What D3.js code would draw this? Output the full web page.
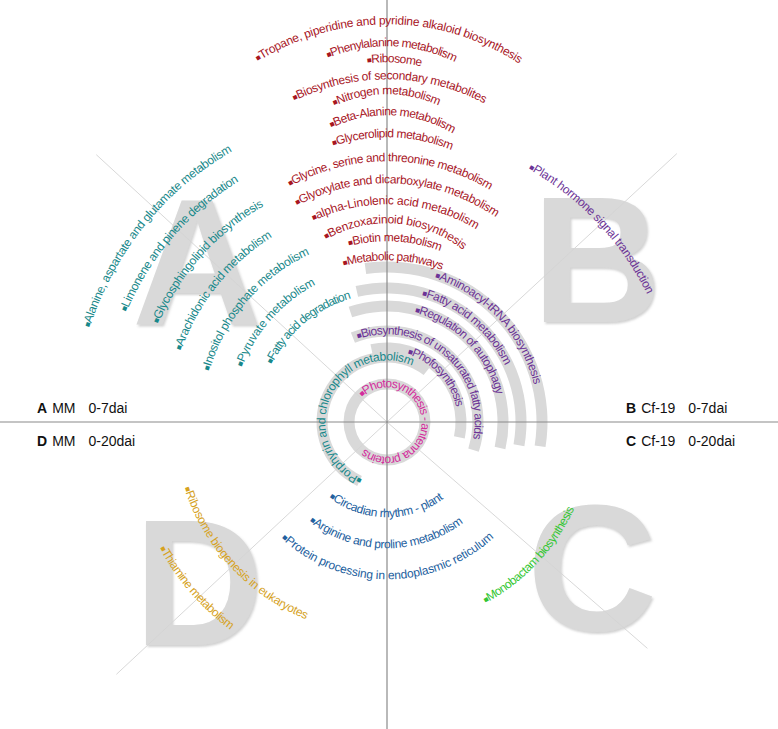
<!DOCTYPE html>
<html>
<head>
<meta charset="utf-8">
<script src="https://cdn.jsdelivr.net/npm/d3@7"></script>
<style>
  body { margin: 0; background: #fff; }
  svg { display: block; }
  text { font-family: "Liberation Sans", Arial, sans-serif; }
</style>
</head>
<body>
<svg id="chart" width="778" height="729"></svg>
<script>
// pathway names per region, listed outer ring first
const sharedAB = [
  "Tropane, piperidine and pyridine alkaloid biosynthesis",
  "Phenylalanine metabolism",
  "Ribosome",
  "Biosynthesis of secondary metabolites",
  "Nitrogen metabolism",
  "Beta-Alanine metabolism",
  "Glycerolipid metabolism",
  "Glycine, serine and threonine metabolism",
  "Glyoxylate and dicarboxylate metabolism",
  "alpha-Linolenic acid metabolism",
  "Benzoxazinoid biosynthesis",
  "Biotin metabolism",
  "Metabolic pathways"
];
const onlyA = [
  "Alanine, aspartate and glutamate metabolism",
  "Limonene and pinene degradation",
  "Glycosphingolipid biosynthesis",
  "Arachidonic acid metabolism",
  "Inositol phosphate metabolism",
  "Pyruvate metabolism",
  "Fatty acid degradation"
];
const onlyB = [
  "Plant hormone signal transduction",
  "Aminoacyl-tRNA biosynthesis",
  "Fatty acid metabolism",
  "Regulation of autophagy",
  "Biosynthesis of unsaturated fatty acids",
  "Phofosynthesis"
];
const centreTeal = ["Porphyrin and chlorophyll metabolism"];
const centreMagenta = ["Photosynthesis - antenna proteins"];
const sharedCD = [
  "Circadian rhythm - plant",
  "Arginine and proline metabolism",
  "Protein processing in endoplasmic reticulum"
];
const onlyD = ["Ribosome biogenesis in eukaryotes", "Thiamine metabolism"];
const onlyC = ["Monobactam biosynthesis"];

const quadLetters = ["A", "B", "C", "D"];
const quadGroups = ["MM", "Cf-19", "Cf-19", "MM"];
const quadPeriods = ["0-7dai", "0-7dai", "0-20dai", "0-20dai"];

// ---- layout (radius from the centre, angles in degrees clockwise from 12 o'clock)
const cx = 387, cy = 422;
const ringA = [
  {r: 315, from: -72.4, to: -29.7}, {r: 286, from: -67.1, to: -31.6},
  {r: 252, from: -66.8, to: -29.7}, {r: 221, from: -70.9, to: -31.8},
  {r: 188, from: -74, to: -24.7}, {r: 158, from: -69.2, to: -27.5},
  {r: 132, from: -63.4, to: -21}
];
// each shared label is its own little arch: apex distance and bend radius
const archAB = [
  {apex: 401, bend: 245, from: -32.3, to: 33.2}, {apex: 379, bend: 157, from: -22.6, to: 26.2},
  {apex: 363, bend: 150, from: -7.7, to: 13.5}, {apex: 346, bend: 212, from: -26.4, to: 27.8},
  {apex: 331, bend: 128, from: -25, to: 24.5}, {apex: 310, bend: 132, from: -25.7, to: 30.8},
  {apex: 288, bend: 172, from: -18.6, to: 22.5}, {apex: 264, bend: 201, from: -29.4, to: 31.3},
  {apex: 242, bend: 195, from: -28, to: 34.6}, {apex: 221, bend: 174, from: -25.5, to: 31.6},
  {apex: 202, bend: 125, from: -30, to: 38.6}, {apex: 184, bend: 154, from: -14.6, to: 20.8},
  {apex: 165, bend: 164, from: -15.6, to: 20}
];
const ringB = [
  {r: 293, from: 29.2, to: 63.9, band: null},
  {r: 155, from: 18.3, to: 75.7, band: [-8, 99]},
  {r: 134, from: 15.4, to: 64.4, band: [-13, 100]},
  {r: 116, from: 14.2, to: 76, band: [-18.4, 103]},
  {r: 91, from: -19.3, to: 101, band: [-22, 108]},
  {r: 74, from: 16.8, to: 76.9, band: [-12, 102]}
];
const ringCentreTeal = [{r: 65, from: -156.4, to: 23.7, band: [-155, 38]}];
const ringCentreMagenta = [{r: 38, from: -45, to: 209.7, band: [0, 360]}];
const ringCD = [
  {r: 92, from: 217.4, to: 143.6}, {r: 123, from: 218, to: 142.8}, {r: 154, from: 222.3, to: 137.3}
];
const ringD = [{r: 210, from: 252, to: 202.3}, {r: 257, from: 241, to: 217}];
const ringC = [{r: 203, from: 151.5, to: 114.8}];

const colors = {
  red: "#a8161f", teal: "#17888a", purple: "#6c3396", magenta: "#d42c9c",
  blue: "#22609e", gold: "#d6a21e", green: "#33c633"
};

const svg = d3.select("#chart");
const rad = d => d * Math.PI / 180;
const bandWidth = 11;
const fontSize = 12;

// big quadrant letters
const letterPos = [
  {x: 197, y: 325}, {x: 597, y: 322}, {x: 592, y: 630}, {x: 199, y: 645}
];
const defs = svg.append("defs");
defs.append("filter").attr("id", "shade")
  .append("feDropShadow")
  .attr("dx", 1.5).attr("dy", 2).attr("stdDeviation", 1.2)
  .attr("flood-color", "#9a9a9a").attr("flood-opacity", 0.45);

svg.append("g").selectAll("text")
  .data(quadLetters)
  .join("text")
  .attr("x", (d, i) => letterPos[i].x)
  .attr("y", (d, i) => letterPos[i].y)
  .attr("text-anchor", "middle")
  .attr("font-size", 180)
  .attr("font-weight", "bold")
  .attr("fill", "#d9d9d9")
  .attr("filter", "url(#shade)")
  .text(d => d);

// grey bands under the rings
const bandArc = d3.arc()
  .innerRadius(d => d.r - bandWidth / 2)
  .outerRadius(d => d.r + bandWidth / 2)
  .startAngle(d => rad(d.band[0]))
  .endAngle(d => rad(d.band[1]));

const bands = ringB.concat(ringCentreTeal, ringCentreMagenta).filter(d => d.band);
svg.append("g")
  .attr("transform", `translate(${cx},${cy})`)
  .selectAll("path")
  .data(bands)
  .join("path")
  .attr("d", bandArc)
  .attr("fill", "#d9d9d9");

// diagonal guides and axes
const diagonals = [{a: -47.4, len: 395}, {a: 47.2, len: 395}, {a: 131, len: 345}, {a: 227, len: 370}];
svg.append("g").selectAll("line")
  .data(diagonals)
  .join("line")
  .attr("x1", cx).attr("y1", cy)
  .attr("x2", d => cx + d.len * Math.sin(rad(d.a)))
  .attr("y2", d => cy - d.len * Math.cos(rad(d.a)))
  .attr("stroke", "#d4d4d4")
  .attr("stroke-width", 0.9);

svg.append("line")
  .attr("x1", 0).attr("x2", 778).attr("y1", cy).attr("y2", cy)
  .attr("stroke", "#8a8a8a").attr("stroke-width", 1.2);
svg.append("line")
  .attr("x1", cx).attr("x2", cx).attr("y1", 0).attr("y2", 729)
  .attr("stroke", "#8a8a8a").attr("stroke-width", 1.2);

// text along arcs
let pathId = 0;
const labels = svg.append("g");
const textDefs = defs.append("g");

function arcText(name, color, ox, oy, r, from, to) {
  const cw = to > from;
  const rb = cw ? r - 3.3 : r + 3.3;
  const extra = cw ? 25 : -25;
  const p = d3.path();
  p.arc(ox, oy, rb, rad(from - 90), rad(to + extra - 90), !cw);
  const id = "arc" + (pathId++);
  textDefs.append("path").attr("id", id).attr("d", p.toString());

  const t = labels.append("text")
    .attr("font-size", fontSize)
    .attr("fill", color);
  const tp = t.append("textPath").attr("href", "#" + id);
  tp.append("tspan").attr("font-size", 8).attr("dy", -0.5).text("\u25A0");
  tp.append("tspan").attr("dy", 0.5).text(name);
  const natural = t.node().getComputedTextLength();
  const target = rb * Math.abs(rad(to - from));
  const n = name.length;
  const ls = Math.max(-0.8, Math.min(3, (target - natural) / n));
  t.attr("letter-spacing", ls.toFixed(2));
}

function ring(names, layout, color) {
  names.forEach((name, i) => {
    const d = layout[i];
    arcText(name, color, cx, cy, d.r, d.from, d.to);
  });
}

sharedAB.forEach((name, i) => {
  const d = archAB[i];
  arcText(name, colors.red, cx, cy - d.apex + d.bend, d.bend, d.from, d.to);
});
ring(onlyA, ringA, colors.teal);
ring(onlyB, ringB, colors.purple);
ring(centreTeal, ringCentreTeal, colors.teal);
ring(centreMagenta, ringCentreMagenta, colors.magenta);
ring(sharedCD, ringCD, colors.blue);
ring(onlyD, ringD, colors.gold);
ring(onlyC, ringC, colors.green);

// quadrant captions
const captionPos = [
  {x: 37, y: 413}, {x: 626, y: 413}, {x: 626, y: 446}, {x: 37, y: 446}
];
const captions = svg.append("g").selectAll("text")
  .data(quadLetters)
  .join("text")
  .attr("x", (d, i) => captionPos[i].x)
  .attr("y", (d, i) => captionPos[i].y)
  .attr("font-size", 14)
  .attr("fill", "#111");
captions.append("tspan").attr("font-weight", "bold").text(d => d);
captions.append("tspan").attr("dx", 5).text((d, i) => quadGroups[i]);
captions.append("tspan").attr("dx", 13).text((d, i) => quadPeriods[i]);
</script>
</body>
</html>
